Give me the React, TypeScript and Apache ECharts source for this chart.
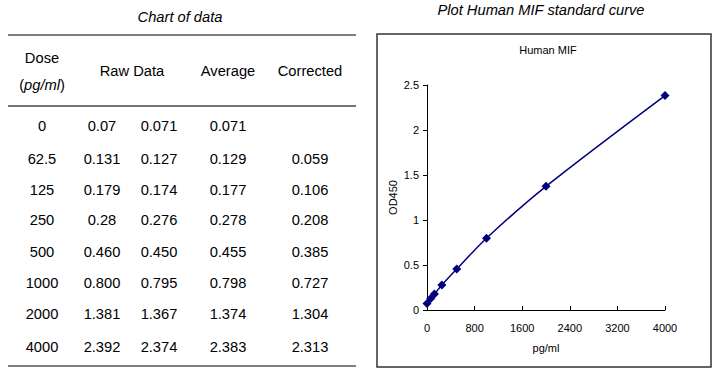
import React, { useEffect, useRef } from "react";
import * as echarts from "echarts";

const doses = ["0", "62.5", "125", "250", "500", "1000", "2000", "4000"];
const doseValues = [0, 62.5, 125, 250, 500, 1000, 2000, 4000];
const raw1 = ["0.07", "0.131", "0.179", "0.28", "0.460", "0.800", "1.381", "2.392"];
const raw2 = ["0.071", "0.127", "0.174", "0.276", "0.450", "0.795", "1.367", "2.374"];
const average = ["0.071", "0.129", "0.177", "0.278", "0.455", "0.798", "1.374", "2.383"];
const corrected = ["", "0.059", "0.106", "0.208", "0.385", "0.727", "1.304", "2.313"];

const FONT = "'Liberation Sans', Arial, sans-serif";
const NAVY = "#00007f";
const FS = 14.7;

export default function App() {
  const ref = useRef<HTMLDivElement>(null);
  useEffect(() => {
    if (!ref.current) return;
    const chart = echarts.init(ref.current, null, { renderer: "svg" });
    const rowY = [126, 159, 190, 220, 252, 283, 314, 347];
    const colX = [42, 102, 159, 228, 310];
    const cellText = (t: string, x: number, y: number, extra: any = {}) => ({
      type: "text",
      x,
      y,
      style: {
        text: t,
        fill: "#000",
        font: `${FS}px ${FONT}`,
        textAlign: "center",
        textVerticalAlign: "middle",
        ...extra,
      },
    });
    const graphics: any[] = [
      cellText("Chart of data", 180, 17, { font: `italic ${FS}px ${FONT}` }),
      { type: "line", shape: { x1: 8, y1: 35, x2: 356, y2: 35 }, style: { stroke: "#000", lineWidth: 1 } },
      { type: "line", shape: { x1: 8, y1: 106, x2: 356, y2: 106 }, style: { stroke: "#444", lineWidth: 1.5 } },
      { type: "line", shape: { x1: 8, y1: 366, x2: 356, y2: 366 }, style: { stroke: "#000", lineWidth: 1 } },
      cellText("Dose", 42, 58),
      {
        type: "text",
        x: 42,
        y: 85,
        style: {
          text: "({i|pg/ml})",
          rich: { i: { font: `italic ${FS}px ${FONT}`, fill: "#000" } },
          font: `${FS}px ${FONT}`,
          fill: "#000",
          textAlign: "center",
          textVerticalAlign: "middle",
        },
      },
      cellText("Raw Data", 132, 71),
      cellText("Average", 228, 71),
      cellText("Corrected", 310, 71),
      cellText("Plot Human MIF standard curve", 541, 10, { font: `italic ${FS}px ${FONT}` }),
      { type: "rect", shape: { x: 377, y: 34, width: 334, height: 333 }, style: { fill: "none", stroke: "#333", lineWidth: 1.5 } },
      cellText("Human MIF", 548, 50, { font: `11px ${FONT}` }),
    ];
    doses.forEach((d, i) => {
      const y = rowY[i];
      graphics.push(cellText(d, colX[0], y));
      graphics.push(cellText(raw1[i], colX[1], y));
      graphics.push(cellText(raw2[i], colX[2], y));
      graphics.push(cellText(average[i], colX[3], y));
      if (corrected[i]) graphics.push(cellText(corrected[i], colX[4], y));
    });

    chart.setOption({
      animation: false,
      textStyle: { fontFamily: FONT },
      graphic: graphics,
      grid: { left: 427, right: 59, top: 85, bottom: 65 },
      xAxis: {
        type: "value",
        min: 0,
        max: 4000,
        interval: 800,
        name: "pg/ml",
        nameLocation: "middle",
        nameGap: 32,
        nameTextStyle: { fontSize: 11, color: "#000" },
        axisLine: { lineStyle: { color: "#000", width: 1 } },
        axisTick: { inside: true, length: 4, lineStyle: { color: "#000" } },
        axisLabel: { fontSize: 11, color: "#000", margin: 12, formatter: (v: number) => String(v) },
        splitLine: { show: false },
      },
      yAxis: {
        type: "value",
        min: 0,
        max: 2.5,
        interval: 0.5,
        name: "OD450",
        nameLocation: "middle",
        nameGap: 29,
        nameTextStyle: { fontSize: 11, color: "#000" },
        axisLine: { show: true, lineStyle: { color: "#000", width: 1 } },
        axisTick: { show: true, length: 4, lineStyle: { color: "#000" } },
        axisLabel: { fontSize: 11, color: "#000", margin: 8 },
        splitLine: { show: false },
      },
      series: [
        {
          type: "line",
          data: doseValues.map((d, i) => [d, parseFloat(average[i])]),
          smooth: 0.3,
          symbol: "diamond",
          symbolSize: 9,
          itemStyle: { color: NAVY },
          lineStyle: { color: NAVY, width: 1.5 },
        },
      ],
    });
    return () => chart.dispose();
  }, []);
  return <div ref={ref} style={{ width: 724, height: 375, position: "absolute", left: 0, top: 0 }} />;
}
